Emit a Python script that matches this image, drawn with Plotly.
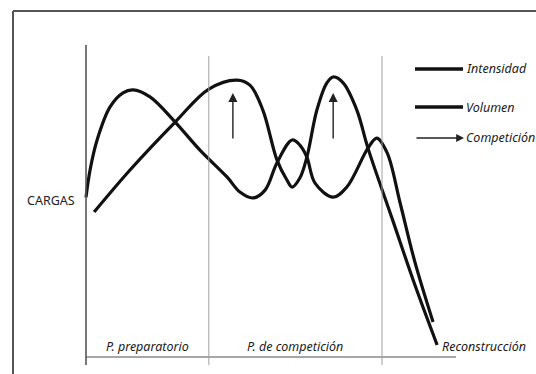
import plotly.graph_objects as go

# Training-load periodization diagram (time on x, load on y, both 0-100 scale)
volumen_x = [0.0, 1.1, 3.0, 6.5, 10.0, 12.7, 17.3, 24.1, 30.8, 38.1, 41.6, 45.1, 48.4,
             51.6, 55.7, 57.8, 59.7, 61.9, 66.8, 70.5, 76.2, 78.6, 81.4, 84.9, 88.9, 93.8]
volumen_y = [57.0, 66.8, 77.5, 89.3, 94.3, 95.4, 92.9, 83.9, 73.9, 64.3, 58.9, 56.8, 59.6,
             69.3, 77.5, 75.7, 71.4, 62.1, 57.1, 60.7, 74.6, 78.2, 72.9, 55.0, 33.9, 12.5]

intensidad_x = [2.2, 11.9, 24.1, 33.2, 40.8, 44.3, 47.8, 51.6, 54.3, 55.7, 57.8, 59.7,
                62.4, 65.1, 66.8, 69.5, 73.2, 76.2, 82.7, 88.9, 94.9]
intensidad_y = [51.8, 66.8, 83.9, 95.7, 98.9, 97.1, 88.2, 70.4, 63.2, 60.7, 63.9, 71.4,
                88.2, 97.9, 100.0, 97.9, 88.2, 74.6, 49.6, 25.7, 4.3]

# Period boundaries and names
period_bounds = [0.0, 33.2, 80.0]
period_names = ["P. preparatorio", "P. de competición"]
recovery_name = "Reconstrucción"
axis_end = 100.0

# Competition markers (arrows): x position, tail load, tip load
competition_x = [39.7, 66.8]
arrow_tail = 77.5
arrow_tip = 94.3

legend_names = ["Intensidad", "Volumen", "Competición"]

W, H = 536, 374
X_RANGE = [-23.243, 121.622]
Y_RANGE = [-6.071, 127.5]

INK = "#111111"
FONT = "Noto Sans"

fig = go.Figure()

fig.add_trace(go.Scatter(x=volumen_x, y=volumen_y, mode="lines", name="Volumen",
                         line=dict(color=INK, width=3.2, shape="spline", smoothing=1.0)))
fig.add_trace(go.Scatter(x=intensidad_x, y=intensidad_y, mode="lines", name="Intensidad",
                         line=dict(color=INK, width=3.2, shape="spline", smoothing=1.0)))

# the plot area fills the whole figure, so "x domain"/"y domain" equal page fractions
XD, YD = "x domain", "y domain"

shapes = []
# outer frame (top and left edges)
shapes.append(dict(type="line", xref=XD, yref=YD, x0=13 / W, x1=1.0,
                   y0=1 - 11 / H, y1=1 - 11 / H, line=dict(color="#555555", width=2)))
shapes.append(dict(type="line", xref=XD, yref=YD, x0=13 / W, x1=13 / W,
                   y0=1 - 11 / H, y1=0, line=dict(color="#555555", width=2)))

# time axis
shapes.append(dict(type="line", xref="x", yref="y", x0=period_bounds[0], x1=axis_end,
                   y0=0, y1=0, line=dict(color="#8a8a8a", width=1.5)))
# period separators
for i, b in enumerate(period_bounds):
    top = 111.4 if i == 0 else 107.5
    shapes.append(dict(type="line", xref="x", yref="y", x0=b, x1=b, y0=-2.9, y1=top,
                       line=dict(color="#555555" if i == 0 else "#a0a0a0",
                                 width=1.6 if i == 0 else 1)))

annotations = []
# competition arrows
for cx in competition_x:
    annotations.append(dict(x=cx, y=arrow_tip, ax=cx, ay=arrow_tail, xref="x", yref="y",
                            axref="x", ayref="y", text="", showarrow=True, arrowhead=2,
                            arrowsize=1.3, arrowwidth=1.4, arrowcolor="#222222", standoff=0))

# period labels
lab_font = dict(family=FONT, size=12.5, color="#1a1a1a")
for i, name in enumerate(period_names):
    mid = (period_bounds[i] + period_bounds[i + 1]) / 2
    annotations.append(dict(x=mid, y=3.6, xref="x", yref="y", text=f"<i>{name}</i>",
                            showarrow=False, font=lab_font, xanchor="center", yanchor="middle"))
annotations.append(dict(x=95.6, y=3.6, xref="x", yref="y", text=f"<i>{recovery_name}</i>",
                        showarrow=False, font=lab_font, xanchor="left", yanchor="middle"))

# y-axis label
annotations.append(dict(x=51 / W, y=1 - 200 / H, xref=XD, yref=YD, text="CARGAS",
                        showarrow=False, font=dict(family=FONT, size=12.5, color="#222222"),
                        xanchor="center", yanchor="middle"))

# legend
leg_y = [69, 107, 138]
for name, py in zip(legend_names, leg_y):
    yp = 1 - py / H
    if name == "Competición":
        annotations.append(dict(x=464 / W, y=yp, ax=415 / W, ay=yp, xref=XD, yref=YD,
                                axref=XD, ayref=YD, text="", showarrow=True,
                                arrowhead=2, arrowsize=1.2, arrowwidth=1.3,
                                arrowcolor="#222222", standoff=0))
    else:
        shapes.append(dict(type="line", xref=XD, yref=YD, x0=415 / W, x1=463 / W,
                           y0=yp, y1=yp, line=dict(color=INK, width=3.5)))
    annotations.append(dict(x=464 / W, y=yp, xref=XD, yref=YD, text=f"<i>{name}</i>",
                            showarrow=False, font=lab_font, xanchor="left", yanchor="middle"))

fig.update_layout(
    width=W, height=H, margin=dict(l=0, r=0, t=0, b=0),
    paper_bgcolor="white", plot_bgcolor="white", showlegend=False,
    xaxis=dict(range=X_RANGE, visible=False, fixedrange=True),
    yaxis=dict(range=Y_RANGE, visible=False, fixedrange=True),
    shapes=shapes, annotations=annotations,
)

fig.write_html("out.html")
